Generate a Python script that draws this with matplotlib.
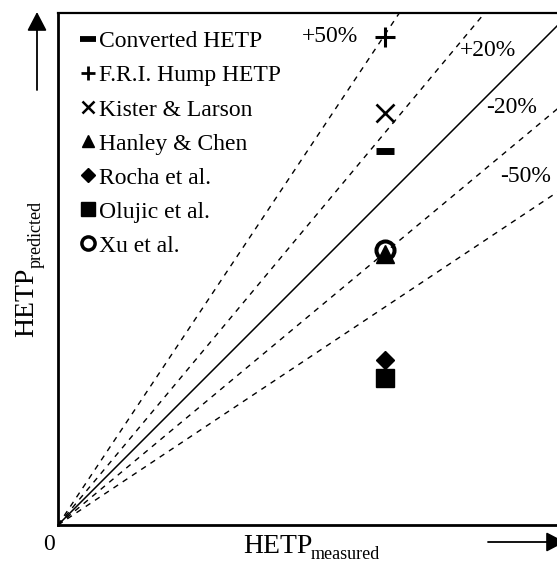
import numpy as np
import matplotlib
matplotlib.use("Agg")
import matplotlib.pyplot as plt
from matplotlib.patches import FancyArrowPatch

plt.rcParams['font.family'] = ['Liberation Serif', 'DejaVu Serif']

W, H = 557, 562

# data (arbitrary units, axes go 0..1)
methods = ["Converted HETP", "F.R.I. Hump HETP", "Kister & Larson",
           "Hanley & Chen", "Rocha et al.", "Olujic et al.", "Xu et al."]
hetp_measured = [0.639, 0.639, 0.639, 0.639, 0.639, 0.639, 0.639]
hetp_predicted = [0.730, 0.953, 0.805, 0.530, 0.322, 0.287, 0.537]

# deviation lines: predicted = factor * measured
dev_labels = ["+50%", "+20%", "-20%", "-50%"]
dev_factors = [1.5, 1.2, 1 / 1.2, 1 / 1.5]

# marker styles: (marker, size, edge width, filled, legend size, legend edge width)
styles = [
    ('_', 12.5, 5.0, True, 12, 4.2),
    ('+', 14.5, 2.2, True, 9.5, 2.0),
    ('x', 13.5, 1.9, True, 8.5, 1.8),
    ('^', 13.0, 1.0, True, 9, 1.0),
    ('D', 9.5, 1.0, True, 7, 1.0),
    ('s', 13.5, 1.0, True, 10.5, 1.0),
    ('o', 13.0, 2.9, False, 9.5, 2.5),
]


def px(x, y):
    # pixel position (from top-left) -> figure fraction
    return x / W, 1 - y / H


fig = plt.figure(figsize=(W / 100, H / 100), dpi=100)
ax = fig.add_axes([58 / W, 37 / H, 512 / W, 512 / H])
ax.set_xlim(0, 1)
ax.set_ylim(0, 1)

xs = np.array([0, 1.0])
ax.plot(xs, xs, color='black', lw=1.1, zorder=1)
for f in dev_factors:
    ax.plot(xs, f * xs, color='black', lw=1.0, ls=(0, (4, 4)), zorder=1)

draw_order = [6, 0, 1, 2, 3, 4, 5]
handles = {}
for i in draw_order:
    m, ms, mew, filled, _, _ = styles[i]
    h, = ax.plot([hetp_measured[i]], [hetp_predicted[i]], ls='none', marker=m,
                 ms=ms, mew=mew, color='black',
                 mfc='black' if filled else 'none', mec='black',
                 label=methods[i], zorder=3)
    handles[i] = h

leg = ax.legend([handles[i] for i in range(len(methods))], methods,
                loc='upper left', bbox_to_anchor=(0.045, 0.965),
                frameon=False, fontsize=17, handlelength=0.6,
                handletextpad=0.15, labelspacing=0.53, borderaxespad=0,
                borderpad=0)
for i, h in enumerate(leg.legend_handles):
    h.set_markersize(styles[i][4])
    h.set_markeredgewidth(styles[i][5])

label_pos = [(0.531, 0.955), (0.840, 0.926), (0.885, 0.816), (0.914, 0.680)]
for lab, (tx, ty) in zip(dev_labels, label_pos):
    ax.text(tx, ty, lab, transform=ax.transAxes, ha='center', va='center',
            fontsize=17)

ax.set_xticks([])
ax.set_yticks([])
ax.spines['left'].set_linewidth(2.0)
ax.spines['bottom'].set_linewidth(2.0)
ax.spines['top'].set_linewidth(1.6)
ax.spines['right'].set_linewidth(1.6)

fig.text(*px(49, 545), "0", ha='center', va='center', fontsize=17)

# x label: HETP with subscript
fig.text(*px(243, 553), "HETP", ha='left', va='baseline', fontsize=20)
fig.text(*px(311, 559), "measured", ha='left', va='baseline', fontsize=13)

# y label, rotated
fig.text(*px(33, 337), "HETP", ha='left', va='baseline', fontsize=20,
         rotation=90, rotation_mode='anchor')
fig.text(*px(41, 268), "predicted", ha='left', va='baseline', fontsize=13,
         rotation=90, rotation_mode='anchor')

up = FancyArrowPatch((37, H - 90), (37, H - 12), transform=None,
                     arrowstyle='-|>,head_length=11.5,head_width=6',
                     color='black', lw=1.3, shrinkA=0, shrinkB=0)
right = FancyArrowPatch((488, H - 542), (565, H - 542), transform=None,
                        arrowstyle='-|>,head_length=11.5,head_width=6',
                        color='black', lw=1.3, shrinkA=0, shrinkB=0)
fig.add_artist(up)
fig.add_artist(right)

fig.savefig("out.png", dpi=100)
